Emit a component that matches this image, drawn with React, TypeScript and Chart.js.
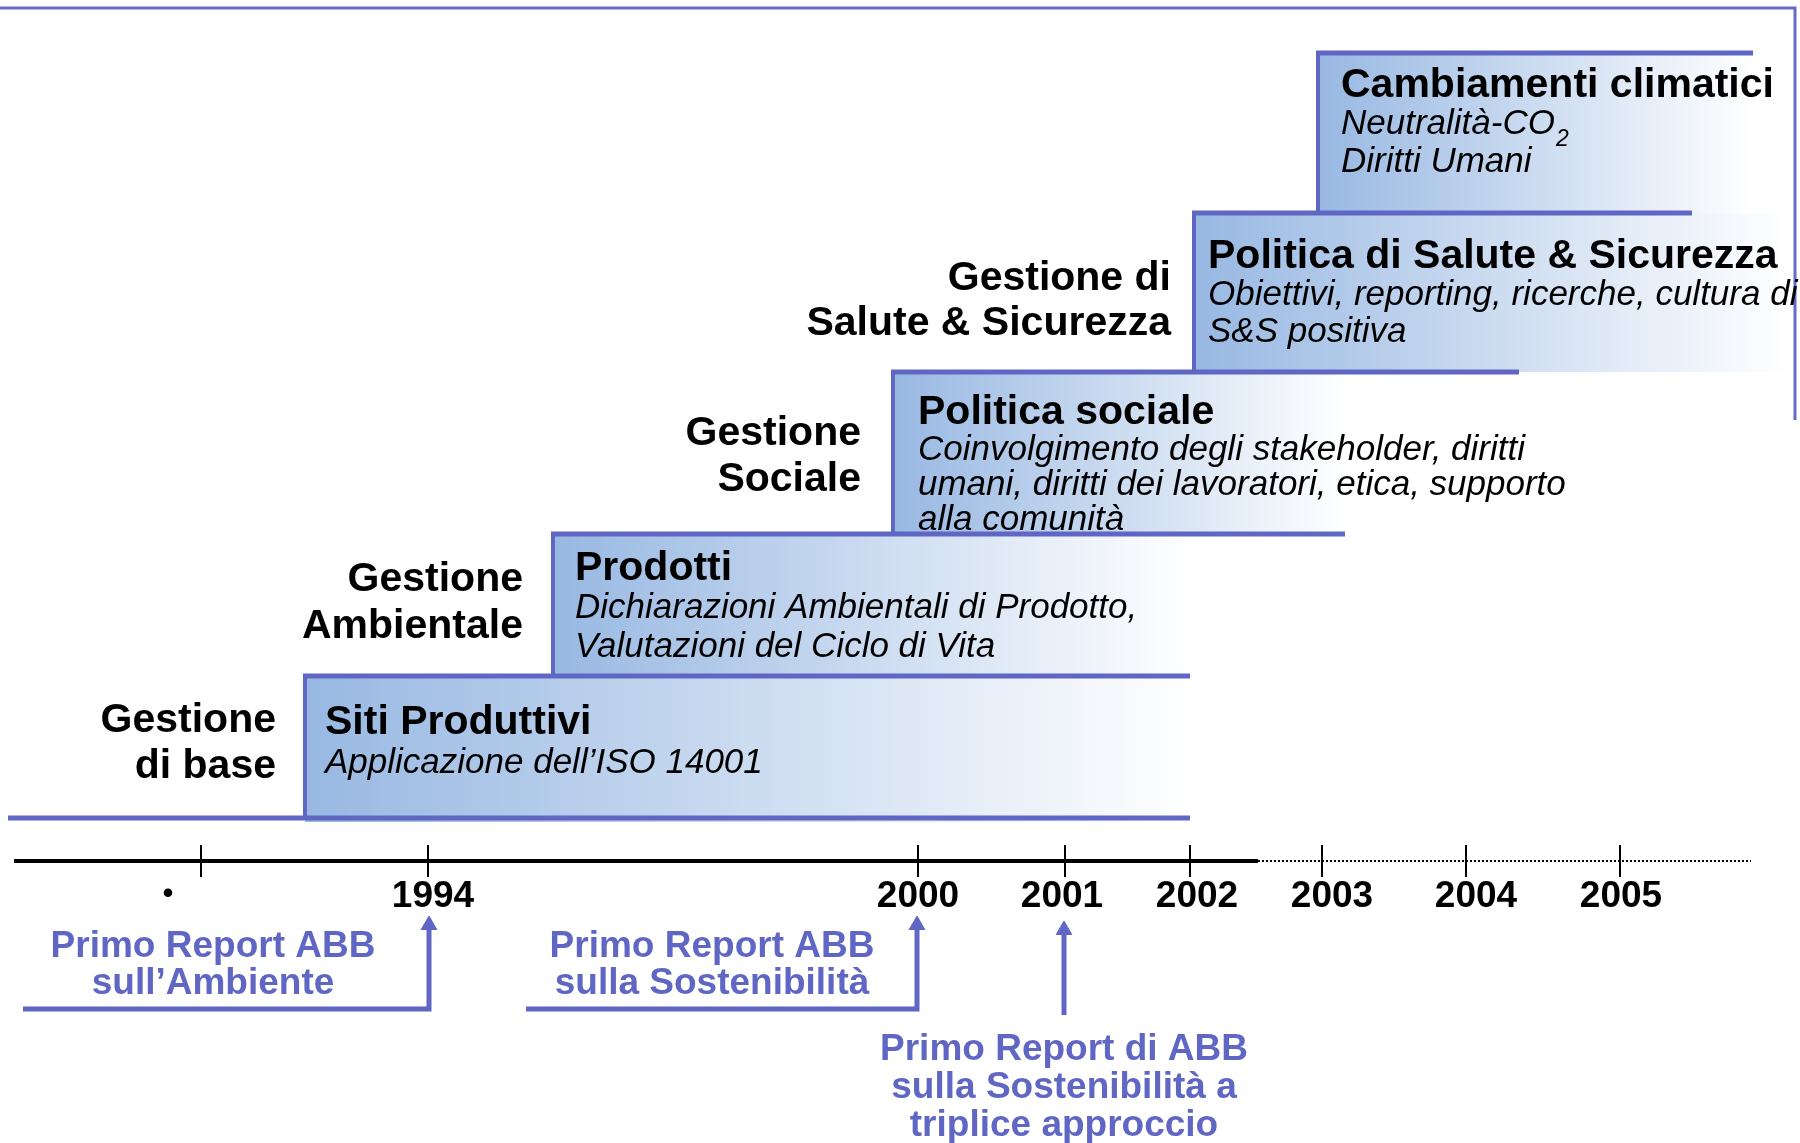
import React, { useEffect, useRef } from 'react';
import { Chart, registerables } from 'chart.js';

Chart.register(...registerables);

// ---------- data ----------
const YEAR_LABELS = ['•', '1994', '2000', '2001', '2002', '2003', '2004', '2005'];

const STEP_TITLES = [
  'Siti Produttivi',
  'Prodotti',
  'Politica sociale',
  'Politica di Salute & Sicurezza',
  'Cambiamenti climatici',
];

const STEP_DETAILS = [
  ['Applicazione dell’ISO 14001'],
  ['Dichiarazioni Ambientali di Prodotto,', 'Valutazioni del Ciclo di Vita'],
  [
    'Coinvolgimento degli stakeholder, diritti',
    'umani, diritti dei lavoratori, etica, supporto',
    'alla comunità',
  ],
  ['Obiettivi, reporting, ricerche, cultura di', 'S&S positiva'],
  ['Neutralità-CO₂', 'Diritti Umani'],
];

const STEP_AREAS = [
  ['Gestione', 'di base'],
  ['Gestione', 'Ambientale'],
  ['Gestione', 'Sociale'],
  ['Gestione di', 'Salute & Sicurezza'],
];

const REPORT_NOTES = [
  ['Primo Report ABB', 'sull’Ambiente'],
  ['Primo Report ABB', 'sulla Sostenibilità'],
  ['Primo Report di ABB', 'sulla Sostenibilità a', 'triplice approccio'],
];

// ---------- layout (diagram units: 0..1800 across, 0..1143 down) ----------
const W = 1800;
const H = 1143;
const AXIS_Y = 861;
const TICK_X = [201, 428, 918, 1065, 1190, 1322, 1466, 1620];
const YEAR_X = [168, 433, 918, 1062, 1197, 1332, 1476, 1621];
const LEVEL_Y = [818, 676, 534, 372, 213, 53];
const STEP_X0 = [305, 553, 893, 1194, 1318];
const STEP_FILL_X1 = [1190, 1190, 1345, 1790, 1753];
const STEP_LINE_X1 = [1190, 1345, 1519, 1692, 1753];
const TITLE_POS = [
  [325, 734],
  [575, 580],
  [918, 424],
  [1208, 268],
  [1341, 97],
];
const DETAIL_BASE = [[773], [618, 657], [460, 495, 530], [305, 342], [134, 172]];
const AREA_RIGHT = [276, 523, 861, 1171];
const AREA_BASE = [
  [732, 778],
  [591, 638],
  [445, 491],
  [290, 335],
];
const ARROW_X = [429, 917, 1064];
const ARROW_BOTTOM = [1009, 1009, 1015];
const ARROW_TIP = [916, 916, 921];
const ARROW_LEFT = [23, 526, null as number | null];
const NOTE_X = [213, 712, 1064];
const NOTE_BASE = [
  [957, 994],
  [957, 994],
  [1060, 1098, 1136],
];

const FONT = '"Liberation Sans", Arial, Helvetica, sans-serif';
const PURPLE = '#5f66c4';
const GRAD_LEFT = '#98b8e2';

function lineDs(points: { x: number; y: number }[], color: string, width: number, extra: any = {}) {
  return {
    type: 'line' as const,
    data: points,
    borderColor: color,
    borderWidth: width,
    pointRadius: 0,
    showLine: true,
    fill: false,
    tension: 0,
    borderCapStyle: 'butt',
    borderJoinStyle: 'miter',
    ...extra,
  };
}

const boxesPlugin = {
  id: 'boxes',
  beforeDatasetsDraw(chart: any) {
    const { ctx, scales } = chart;
    const px = (v: number) => scales.x.getPixelForValue(v);
    const py = (v: number) => scales.y.getPixelForValue(v);
    ctx.save();
    STEP_X0.forEach((x0v, i) => {
      const x0 = px(x0v);
      const x1 = px(STEP_FILL_X1[i]);
      const yTop = py(LEVEL_Y[i + 1]);
      const yBot = py(LEVEL_Y[i]) + (i === 0 ? 4 : 0);
      const g = ctx.createLinearGradient(x0, 0, x1, 0);
      g.addColorStop(0, GRAD_LEFT);
      g.addColorStop(1, '#ffffff');
      ctx.fillStyle = g;
      ctx.fillRect(x0, yTop, x1 - x0, yBot - yTop);
    });
    ctx.restore();
  },
};

const textPlugin = {
  id: 'texts',
  afterDatasetsDraw(chart: any) {
    const { ctx, scales } = chart;
    const px = (v: number) => scales.x.getPixelForValue(v);
    const py = (v: number) => scales.y.getPixelForValue(v);
    ctx.save();
    ctx.textBaseline = 'alphabetic';

    // step titles and details
    STEP_TITLES.forEach((t, i) => {
      const [tx, ty] = TITLE_POS[i];
      ctx.fillStyle = '#000';
      ctx.textAlign = 'left';
      ctx.font = `bold 41px ${FONT}`;
      ctx.fillText(t, px(tx), py(ty));
      STEP_DETAILS[i].forEach((line, j) => {
        const y = py(DETAIL_BASE[i][j]);
        if (line.includes('₂')) {
          const main = line.replace('₂', '');
          ctx.font = `italic 35px ${FONT}`;
          ctx.fillText(main, px(tx), y);
          const w = ctx.measureText(main).width;
          ctx.font = `italic 23px ${FONT}`;
          ctx.fillText('2', px(tx) + w + 1, y + 12);
        } else {
          ctx.font = `italic 35px ${FONT}`;
          ctx.fillText(line, px(tx), y);
        }
      });
    });

    // management areas
    ctx.textAlign = 'right';
    ctx.font = `bold 41px ${FONT}`;
    ctx.fillStyle = '#000';
    STEP_AREAS.forEach((lines, i) => {
      lines.forEach((line, j) => {
        ctx.fillText(line, px(AREA_RIGHT[i]), py(AREA_BASE[i][j]));
      });
    });

    // year labels
    ctx.textAlign = 'center';
    YEAR_LABELS.forEach((lab, i) => {
      if (lab === '•') {
        ctx.font = `bold 30px ${FONT}`;
        ctx.fillText(lab, px(YEAR_X[i]), py(903));
      } else {
        ctx.font = `bold 37px ${FONT}`;
        ctx.fillText(lab, px(YEAR_X[i]), py(907));
      }
    });

    // report notes
    ctx.fillStyle = PURPLE;
    ctx.font = `bold 37px ${FONT}`;
    REPORT_NOTES.forEach((lines, i) => {
      lines.forEach((line, j) => {
        ctx.fillText(line, px(NOTE_X[i]), py(NOTE_BASE[i][j]));
      });
    });
    ctx.restore();
  },
};

export default function App() {
  const ref = useRef<HTMLCanvasElement | null>(null);

  useEffect(() => {
    if (!ref.current) return;
    const datasets: any[] = [];

    // frame
    datasets.push(
      lineDs(
        [
          { x: 0, y: 8 },
          { x: 1795, y: 8 },
          { x: 1795, y: 420 },
        ],
        '#656bc8',
        3
      )
    );
    // base line
    datasets.push(
      lineDs(
        [
          { x: 8, y: LEVEL_Y[0] },
          { x: STEP_FILL_X1[0], y: LEVEL_Y[0] },
        ],
        PURPLE,
        5
      )
    );
    // step lines
    STEP_X0.forEach((x0, i) => {
      datasets.push(
        lineDs(
          [
            { x: x0 - 2, y: LEVEL_Y[i + 1] },
            { x: STEP_LINE_X1[i], y: LEVEL_Y[i + 1] },
          ],
          PURPLE,
          5
        )
      );
      datasets.push(
        lineDs(
          [
            { x: x0, y: LEVEL_Y[i] },
            { x: x0, y: LEVEL_Y[i + 1] },
          ],
          PURPLE,
          4
        )
      );
    });
    // timeline
    datasets.push(
      lineDs(
        [
          { x: 14, y: AXIS_Y },
          { x: 1258, y: AXIS_Y },
        ],
        '#000',
        4
      )
    );
    datasets.push(
      lineDs(
        [
          { x: 1258, y: AXIS_Y },
          { x: 1751, y: AXIS_Y },
        ],
        '#000',
        2,
        { borderDash: [2, 2] }
      )
    );
    // ticks
    datasets.push({
      type: 'scatter',
      data: TICK_X.map((x) => ({ x, y: AXIS_Y })),
      pointStyle: 'line',
      rotation: 90,
      pointRadius: 16,
      borderColor: '#000',
      borderWidth: 2,
      showLine: false,
    });
    // report arrows
    ARROW_X.forEach((ax, i) => {
      const left = ARROW_LEFT[i];
      const pts = [] as { x: number; y: number }[];
      if (left !== null) pts.push({ x: left, y: ARROW_BOTTOM[i] });
      pts.push({ x: ax, y: ARROW_BOTTOM[i] });
      pts.push({ x: ax, y: ARROW_TIP[i] + 10 });
      datasets.push(lineDs(pts, PURPLE, 5));
    });
    datasets.push({
      type: 'scatter',
      data: ARROW_X.map((x, i) => ({ x, y: ARROW_TIP[i] + 9 })),
      pointStyle: 'triangle',
      pointRadius: 9,
      backgroundColor: PURPLE,
      borderColor: PURPLE,
      borderWidth: 1,
      showLine: false,
    });

    const chart = new Chart(ref.current, {
      type: 'scatter',
      data: { datasets },
      options: {
        animation: false,
        responsive: false,
        devicePixelRatio: 1,
        layout: { padding: 0, autoPadding: false },
        events: [],
        scales: {
          x: { type: 'linear', min: 0, max: W, display: false },
          y: { type: 'linear', min: 0, max: H, reverse: true, display: false },
        },
        plugins: {
          legend: { display: false },
          tooltip: { enabled: false },
        },
      },
      plugins: [boxesPlugin, textPlugin],
    } as any);
    return () => chart.destroy();
  }, []);

  return (
    <div style={{ position: 'absolute', left: 0, top: 0, width: W, height: H, background: '#fff' }}>
      <canvas ref={ref} width={W} height={H} style={{ display: 'block', width: W, height: H }} />
    </div>
  );
}
